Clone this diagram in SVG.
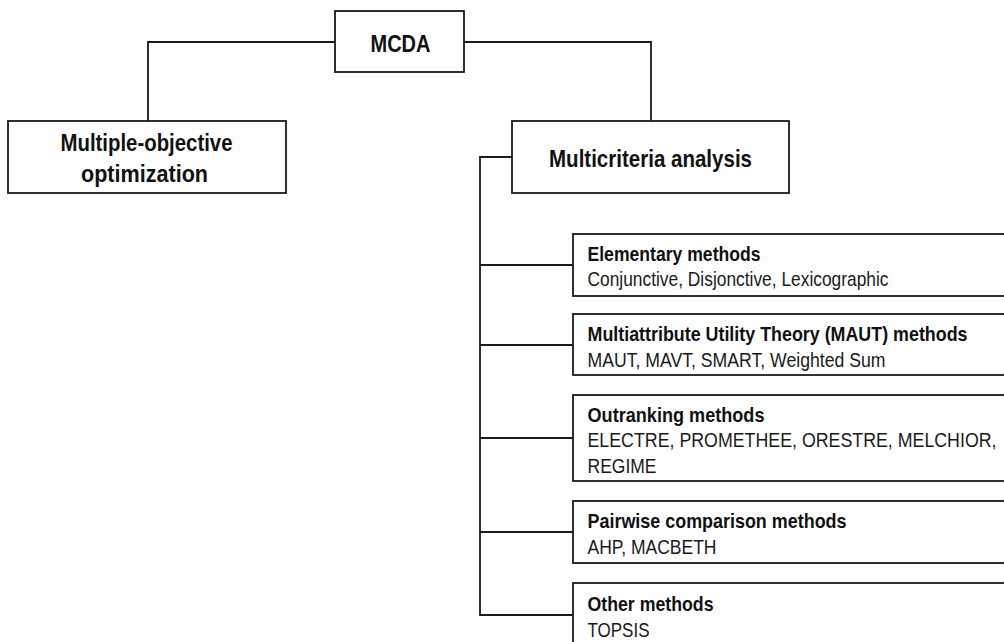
<svg xmlns="http://www.w3.org/2000/svg" width="1004" height="642" viewBox="0 0 1004 642">
<style>
.box{fill:#fff;stroke:#1a1a1a;stroke-width:1.8}
.ln{fill:none;stroke:#1a1a1a;stroke-width:1.8}
.h{font-family:"Liberation Sans",Arial,sans-serif;font-weight:bold;font-size:24px;fill:#111;text-anchor:middle}
.t{font-family:"Liberation Sans",Arial,sans-serif;font-weight:bold;font-size:20.5px;fill:#111}
.s{font-family:"Liberation Sans",Arial,sans-serif;font-size:20.5px;fill:#1a1a1a}
</style>
<rect width="1004" height="642" fill="#fff"/>
<g id="connectors">
<polyline class="ln" points="335,42 148,42 148,121"/>
<polyline class="ln" points="464,42 651,42 651,121"/>
<polyline class="ln" points="512,157 480,157 480,615 573,615"/>
<line class="ln" x1="480" y1="265" x2="573" y2="265"/>
<line class="ln" x1="480" y1="345" x2="573" y2="345"/>
<line class="ln" x1="480" y1="438" x2="573" y2="438"/>
<line class="ln" x1="480" y1="532" x2="573" y2="532"/>
</g>
<g id="mcda">
<rect class="box" x="335" y="11" width="129" height="61"/>
<text class="h" x="400.5" y="51.5" textLength="60" lengthAdjust="spacingAndGlyphs">MCDA</text>
</g>
<g id="moo">
<rect class="box" x="8" y="121" width="278" height="72"/>
<text class="h" x="146.5" y="151" textLength="172" lengthAdjust="spacingAndGlyphs">Multiple-objective</text>
<text class="h" x="144.5" y="182" textLength="127" lengthAdjust="spacingAndGlyphs">optimization</text>
</g>
<g id="mca">
<rect class="box" x="512" y="121" width="277" height="72"/>
<text class="h" x="650.5" y="166.5" textLength="203" lengthAdjust="spacingAndGlyphs">Multicriteria analysis</text>
</g>
<g id="elementary">
<rect class="box" x="573" y="234" width="440" height="62"/>
<text class="t" x="587.5" y="261" textLength="173" lengthAdjust="spacingAndGlyphs">Elementary methods</text>
<text class="s" x="587.5" y="286" textLength="301" lengthAdjust="spacingAndGlyphs">Conjunctive,  Disjonctive,  Lexicographic</text>
</g>
<g id="maut">
<rect class="box" x="573" y="314" width="440" height="61"/>
<text class="t" x="587.5" y="341" textLength="380" lengthAdjust="spacingAndGlyphs">Multiattribute Utility Theory (MAUT) methods</text>
<text class="s" x="587.5" y="367" textLength="298" lengthAdjust="spacingAndGlyphs">MAUT,  MAVT,  SMART,  Weighted  Sum</text>
</g>
<g id="outranking">
<rect class="box" x="573" y="395" width="440" height="86"/>
<text class="t" x="587.5" y="422" textLength="177" lengthAdjust="spacingAndGlyphs">Outranking methods</text>
<text class="s" x="587.5" y="447" textLength="409" lengthAdjust="spacingAndGlyphs">ELECTRE, PROMETHEE, ORESTRE, MELCHIOR,</text>
<text class="s" x="587.5" y="473" textLength="69" lengthAdjust="spacingAndGlyphs">REGIME</text>
</g>
<g id="pairwise">
<rect class="box" x="573" y="501" width="440" height="62"/>
<text class="t" x="587.5" y="528" textLength="259" lengthAdjust="spacingAndGlyphs">Pairwise comparison methods</text>
<text class="s" x="587.5" y="554" textLength="129" lengthAdjust="spacingAndGlyphs">AHP, MACBETH</text>
</g>
<g id="other">
<rect class="box" x="573" y="583" width="440" height="70"/>
<text class="t" x="587.5" y="611" textLength="126" lengthAdjust="spacingAndGlyphs">Other methods</text>
<text class="s" x="587.5" y="637" textLength="62" lengthAdjust="spacingAndGlyphs">TOPSIS</text>
</g>
</svg>
